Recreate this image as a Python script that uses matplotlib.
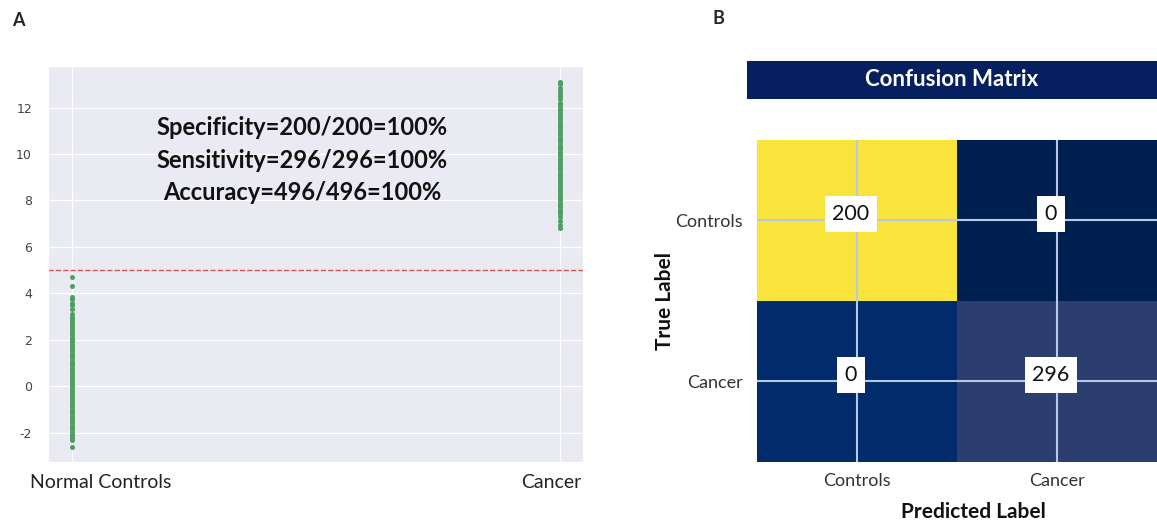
import numpy as np
import matplotlib.pyplot as plt
import seaborn as sns
from matplotlib.transforms import ScaledTranslation

sns.set_style("darkgrid")
plt.rcParams['font.family'] = ['Lato', 'DejaVu Sans']

# scores
groups = ["Normal Controls", "Cancer"]
normal_scores = [-2.6, -2.3, -2.25, -2.2, -2.1, -2.0, -1.9, -1.8, -1.7, -1.6, -1.5, -1.4, -1.3,
                 -1.2, -1.1, -1.0, -0.9, -0.8, -0.7, -0.6, -0.5, -0.4, -0.3, -0.2, -0.1, 0.0,
                 0.1, 0.2, 0.3, 0.4, 0.5, 0.6, 0.7, 0.8, 0.9, 1.0, 1.1, 1.2, 1.3, 1.4, 1.5,
                 1.6, 1.7, 1.8, 1.9, 2.0, 2.1, 2.2, 2.3, 2.4, 2.5, 2.6, 2.7, 2.8, 2.9, 3.0,
                 3.1, 3.35, 3.5, 3.6, 3.75, 3.85, 4.3, 4.7]
cancer_scores = [6.8, 6.95, 7.1, 7.3, 7.4, 7.5, 7.6, 7.7, 7.8, 7.9, 8.0, 8.1, 8.2, 8.3, 8.4,
                 8.5, 8.6, 8.7, 8.8, 8.9, 9.0, 9.1, 9.2, 9.3, 9.4, 9.5, 9.6, 9.7, 9.8, 9.9,
                 10.0, 10.1, 10.2, 10.3, 10.4, 10.5, 10.6, 10.7, 10.8, 10.9, 11.0, 11.1, 11.2,
                 11.3, 11.4, 11.5, 11.6, 11.7, 11.8, 11.9, 12.0, 12.1, 12.2, 12.35, 12.5,
                 12.6, 12.7, 12.85, 13.0, 13.1]
cutoff = 5.0
stats_text = ["Specificity=200/200=100%", "Sensitivity=296/296=100%", "Accuracy=496/496=100%"]

# confusion matrix for panel B
class_labels = ["Controls", "Cancer"]
cm = [[200, 0], [0, 296]]
cell_colors = [["#f8e43a", "#00204f"], ["#022b6b", "#2c3e70"]]

fig = plt.figure(figsize=(11.57, 5.26), dpi=100)

# ---- panel A
ax1 = fig.add_axes([0.0415, 0.122, 0.4625, 0.753])
ax1.scatter(np.zeros(len(normal_scores)), normal_scores, s=13, color="#4f9e63", linewidths=0, zorder=3)
ax1.scatter(np.ones(len(cancer_scores)), cancer_scores, s=13, color="#4f9e63", linewidths=0, zorder=3)
ax1.axhline(cutoff, color="#d9534f", linestyle="--", linewidth=1)
ax1.set_xlim(-0.05, 1.047)
ax1.set_ylim(-3.25, 13.8)
ax1.set_xticks([0, 1])
ax1.set_xticklabels(groups, fontsize=14, color="#222222")
ax1.set_yticks([-2, 0, 2, 4, 6, 8, 10, 12])
ax1.set_yticklabels([str(v) for v in [-2, 0, 2, 4, 6, 8, 10, 12]], family="DejaVu Sans")
ax1.tick_params(axis='y', labelsize=9, labelcolor="#444444", pad=8)
ax1.tick_params(axis='x', pad=5)
# labels sit a bit off their ticks in the original
for lbl, dx in zip(ax1.get_xticklabels(), [28, -9]):
    lbl.set_transform(lbl.get_transform() + ScaledTranslation(dx / 100, 0, fig.dpi_scale_trans))
for i, t in enumerate(stats_text):
    ax1.text(0.475, 0.843 - i * 0.081, t, transform=ax1.transAxes, ha="center", va="center",
             fontsize=17, fontweight="bold", color="#111111")

# ---- panel B
ax2 = fig.add_axes([0.6543, 0.122, 0.3457, 0.612])
rgb = np.array([[plt.matplotlib.colors.to_rgb(c) for c in row] for row in cell_colors])
ax2.imshow(rgb, aspect="auto", extent=(-0.5, 1.5, 1.5, -0.5))
ax2.set_xticks([0, 1])
ax2.set_yticks([0, 1])
ax2.set_xticklabels(class_labels, fontsize=13, color="#333333")
ax2.set_yticklabels(class_labels, fontsize=13, color="#333333")
for lbl in ax2.get_xticklabels():
    lbl.set_transform(lbl.get_transform() + ScaledTranslation(0.1, 0, fig.dpi_scale_trans))
ax2.grid(True, color="#b8c8e8", linewidth=1.5)
ax2.tick_params(length=0)
ax2.tick_params(axis='y', pad=10)
ax2.tick_params(axis='x', pad=8)
for r in range(2):
    for c in range(2):
        ax2.text(c - 0.03, r - 0.04, str(cm[r][c]), ha="center", va="center", fontsize=15.5, color="#111111",
                 bbox=dict(boxstyle="square,pad=0.36", facecolor="white", edgecolor="none"))
ax2.set_xlabel("Predicted Label", fontsize=15, fontweight="bold", color="#111111")
ax2.xaxis.set_label_coords(0.54, -0.125)
ax2.set_ylabel("True Label", fontsize=15, fontweight="bold", color="#111111")
ax2.yaxis.set_label_coords(-0.205, 0.5)
for s in ax2.spines.values():
    s.set_visible(False)

# title bar
bar = fig.add_axes([747 / 1157, 1 - 99 / 526, 410 / 1157, 38 / 526])
bar.set_facecolor("#06205f")
bar.set_xticks([])
bar.set_yticks([])
bar.grid(False)
for s in bar.spines.values():
    s.set_visible(False)
bar.text(0.5, 0.5, "Confusion Matrix", ha="center", va="center", color="white",
         fontsize=16, fontweight="bold", transform=bar.transAxes)

fig.text(12 / 1157, 1 - 20 / 526, "A", fontsize=13, fontweight="bold", va="center")
fig.text(712 / 1157, 1 - 19 / 526, "B", fontsize=13, fontweight="bold", va="center")

fig.savefig("out.png", dpi=100, facecolor="white")
